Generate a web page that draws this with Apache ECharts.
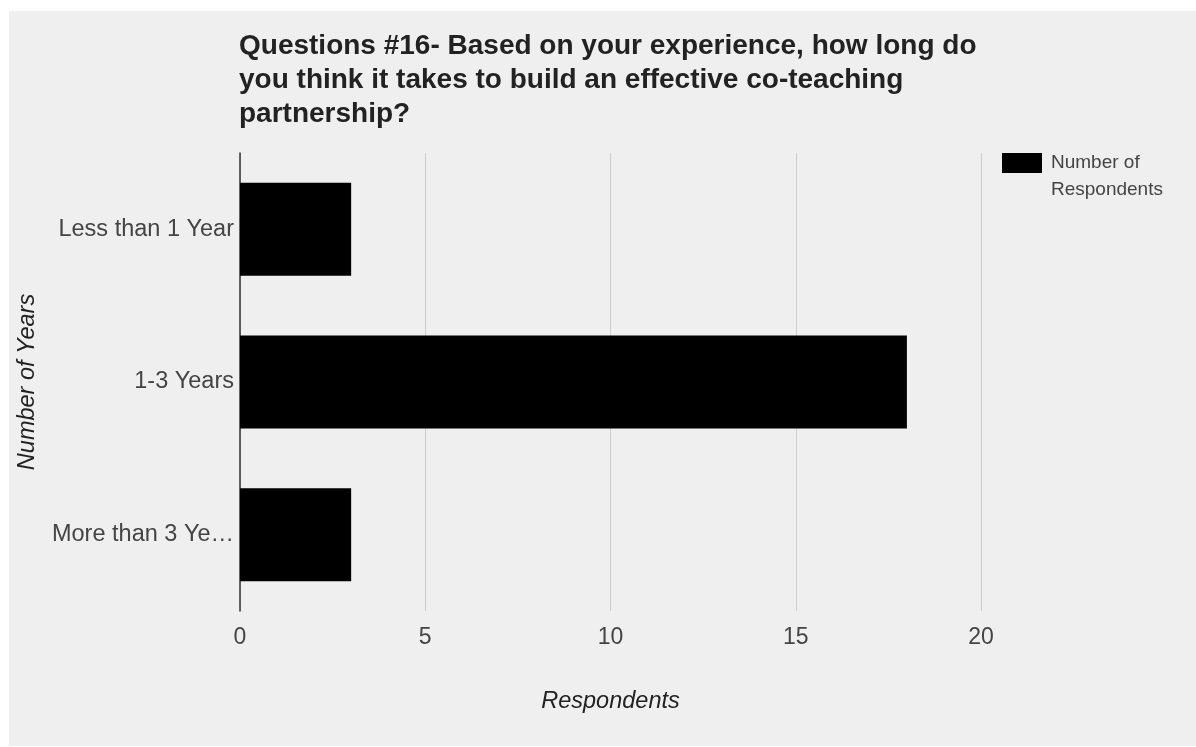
<!DOCTYPE html>
<html>
<head>
<meta charset="utf-8">
<script src="https://cdn.jsdelivr.net/npm/echarts@6/dist/echarts.min.js"></script>
<style>
  html, body { margin: 0; padding: 0; background: #fff; }
  #chart { width: 1196px; height: 747px; }
</style>
</head>
<body>
<div id="chart"></div>
<script>
var categories = ['Less than 1 Year', '1-3 Years', 'More than 3 Ye\u2026'];
var respondents = [3, 18, 3];
var seriesName = 'Number of Respondents';
var titleText = 'Questions #16- Based on your experience, how long do\nyou think it takes to build an effective co-teaching\npartnership?';

var font = 'Liberation Sans, Arial, sans-serif';
var myChart = echarts.init(document.getElementById('chart'));

var option = {
    backgroundColor: '#fff',
    animation: false,
    graphic: [{
        type: 'rect',
        z: -10,
        silent: true,
        shape: { x: 9, y: 11, width: 1187, height: 735 },
        style: { fill: '#efefef' }
    }],
    title: {
        text: titleText,
        left: 234,
        top: 24,
        textStyle: {
            fontFamily: font,
            fontSize: 28,
            fontWeight: 'bold',
            color: '#222',
            lineHeight: 34
        }
    },
    // blank first line so the icon sits beside "Number of"
    legend: {
        left: 1002,
        top: 122.5,
        padding: 0,
        itemWidth: 40,
        itemHeight: 20,
        icon: 'rect',
        formatter: function () { return ' \nNumber of\nRespondents'; },
        textStyle: {
            fontFamily: font,
            fontSize: 19,
            color: '#444',
            lineHeight: 27,
            padding: [0, 0, 0, 4]
        },
        data: [seriesName]
    },
    grid: {
        left: 240,
        right: 215,
        top: 153,
        bottom: 136
    },
    xAxis: {
        type: 'value',
        min: 0,
        max: 20,
        interval: 5,
        name: 'Respondents',
        nameLocation: 'middle',
        nameGap: 79,
        nameTextStyle: {
            fontFamily: font,
            fontSize: 23.5,
            fontStyle: 'italic',
            color: '#222'
        },
        axisLine: { show: false },
        axisTick: { show: false },
        axisLabel: {
            margin: 15,
            fontFamily: font,
            fontSize: 23,
            color: '#444'
        },
        splitLine: { lineStyle: { color: '#ccc', width: 1 } }
    },
    yAxis: {
        type: 'category',
        inverse: true,
        data: categories,
        name: 'Number of Years',
        nameLocation: 'middle',
        nameGap: 201,
        nameTextStyle: {
            fontFamily: font,
            fontSize: 23.5,
            fontStyle: 'italic',
            color: '#222'
        },
        axisLine: { lineStyle: { color: '#333', width: 1.5 } },
        axisTick: { show: false },
        axisLabel: {
            margin: 6,
            fontFamily: font,
            fontSize: 23.5,
            color: '#444'
        }
    },
    series: [{
        name: seriesName,
        type: 'bar',
        data: respondents,
        barWidth: 93,
        itemStyle: { color: '#000' }
    }]
};

myChart.setOption(option);
</script>
</body>
</html>
